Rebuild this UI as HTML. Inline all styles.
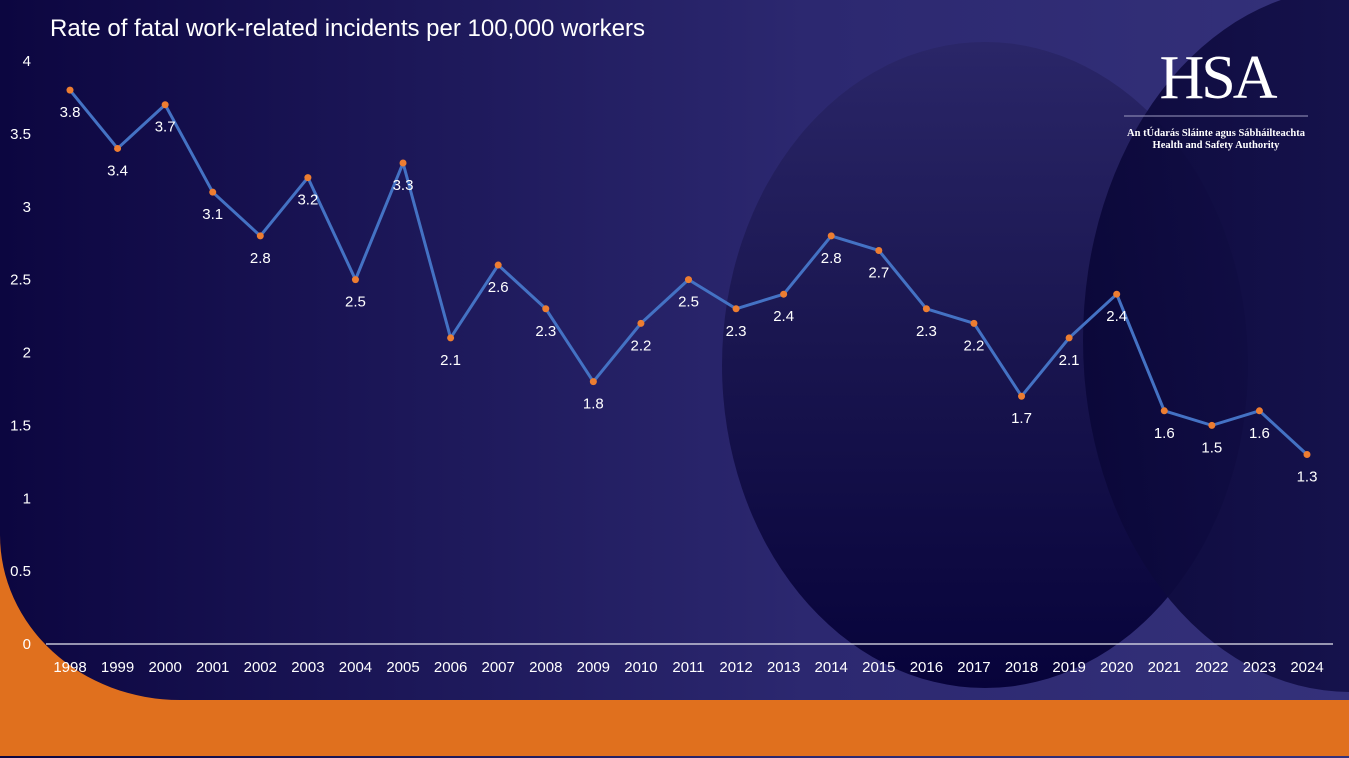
<!DOCTYPE html>
<html><head><meta charset="utf-8"><style>
html,body{margin:0;padding:0;width:1349px;height:758px;overflow:hidden;background:#1a1450}
svg{display:block}
text{font-family:"Liberation Sans",sans-serif}
</style></head><body>
<svg width="1349" height="758" viewBox="0 0 1349 758">
<defs>
<linearGradient id="bg" x1="0" x2="1" y1="0" y2="0">
<stop offset="0" stop-color="#0c0640"/><stop offset="0.6" stop-color="#2c2870"/><stop offset="1" stop-color="#34317a"/>
</linearGradient>
<linearGradient id="e1" x1="0" x2="0" y1="0" y2="1">
<stop offset="0" stop-color="#2a2668"/><stop offset="0.45" stop-color="#1a1650"/><stop offset="1" stop-color="#07033a"/>
</linearGradient>
<linearGradient id="e2" x1="0" x2="1" y1="0" y2="0">
<stop offset="0" stop-color="#0a0738"/><stop offset="1" stop-color="#1c1858"/>
</linearGradient>
</defs>
<rect width="1349" height="758" fill="url(#bg)"/>
<ellipse cx="985" cy="365" rx="263" ry="323" fill="url(#e1)"/>
<ellipse cx="1350" cy="340" rx="267" ry="352" fill="url(#e2)" opacity="0.92"/>
<path d="M0,535 A180,165 0 0 0 180,700 L1349,700 L1349,756 L0,756 Z" fill="#e0701e"/>
<text x="50" y="36" fill="#fff" font-size="24">Rate of fatal work-related incidents per 100,000 workers</text>
<g>
<text x="1217" y="98" fill="#fff" font-size="62" text-anchor="middle" style="font-family:'Liberation Serif',serif;letter-spacing:-3px">HSA</text>
<line x1="1124" y1="116" x2="1308" y2="116" stroke="#9c9ac0" stroke-width="1"/>
<text x="1216" y="136" fill="#fff" font-size="10.5" font-weight="bold" text-anchor="middle" style="font-family:'Liberation Serif',serif">An tÚdarás Sláinte agus Sábháilteachta</text>
<text x="1216" y="148" fill="#fff" font-size="10.5" font-weight="bold" text-anchor="middle" style="font-family:'Liberation Serif',serif">Health and Safety Authority</text>
</g>
<g id="axes"></g>
<g id="marks"></g>
</svg>
<script>
const years=["1998","1999","2000","2001","2002","2003","2004","2005","2006","2007","2008","2009","2010","2011","2012","2013","2014","2015","2016","2017","2018","2019","2020","2021","2022","2023","2024"];
const rates=[3.8,3.4,3.7,3.1,2.8,3.2,2.5,3.3,2.1,2.6,2.3,1.8,2.2,2.5,2.3,2.4,2.8,2.7,2.3,2.2,1.7,2.1,2.4,1.6,1.5,1.6,1.3];
const yTicks=[0,0.5,1,1.5,2,2.5,3,3.5,4];
const NS="http://www.w3.org/2000/svg";
const x=i=>70+i*(1307-70)/(years.length-1);
const y=v=>644-v*(644-61)/4;
const axes=document.getElementById('axes'),marks=document.getElementById('marks');
function mk(t,a,p){const e=document.createElementNS(NS,t);for(const k in a)e.setAttribute(k,a[k]);p.appendChild(e);return e;}
const base=mk('line',{x1:46,x2:1333,y1:y(0),y2:y(0),stroke:'#e8e8f0','stroke-width':1.3},axes);


yTicks.forEach(v=>{const t=mk('text',{x:31,y:y(v)+5,fill:'#fff','font-size':15,'text-anchor':'end'},axes);t.textContent=v;

});
years.forEach((yr,i)=>{const t=mk('text',{x:x(i),y:672,fill:'#fff','font-size':15,'text-anchor':'middle'},axes);t.textContent=yr;

});
const line=mk('polyline',{points:rates.map((v,i)=>x(i)+','+y(v)).join(' '),fill:'none',stroke:'#4472c4','stroke-width':3,'stroke-linejoin':'round'},marks);


rates.forEach((v,i)=>{
const c=mk('circle',{cx:x(i),cy:y(v),r:3.5,fill:'#ed7d31'},marks);


const t=mk('text',{x:x(i),y:y(v)+27,fill:'#fff','font-size':15,'text-anchor':'middle'},marks);t.textContent=v.toFixed(1);


});
</script>
</body></html>
